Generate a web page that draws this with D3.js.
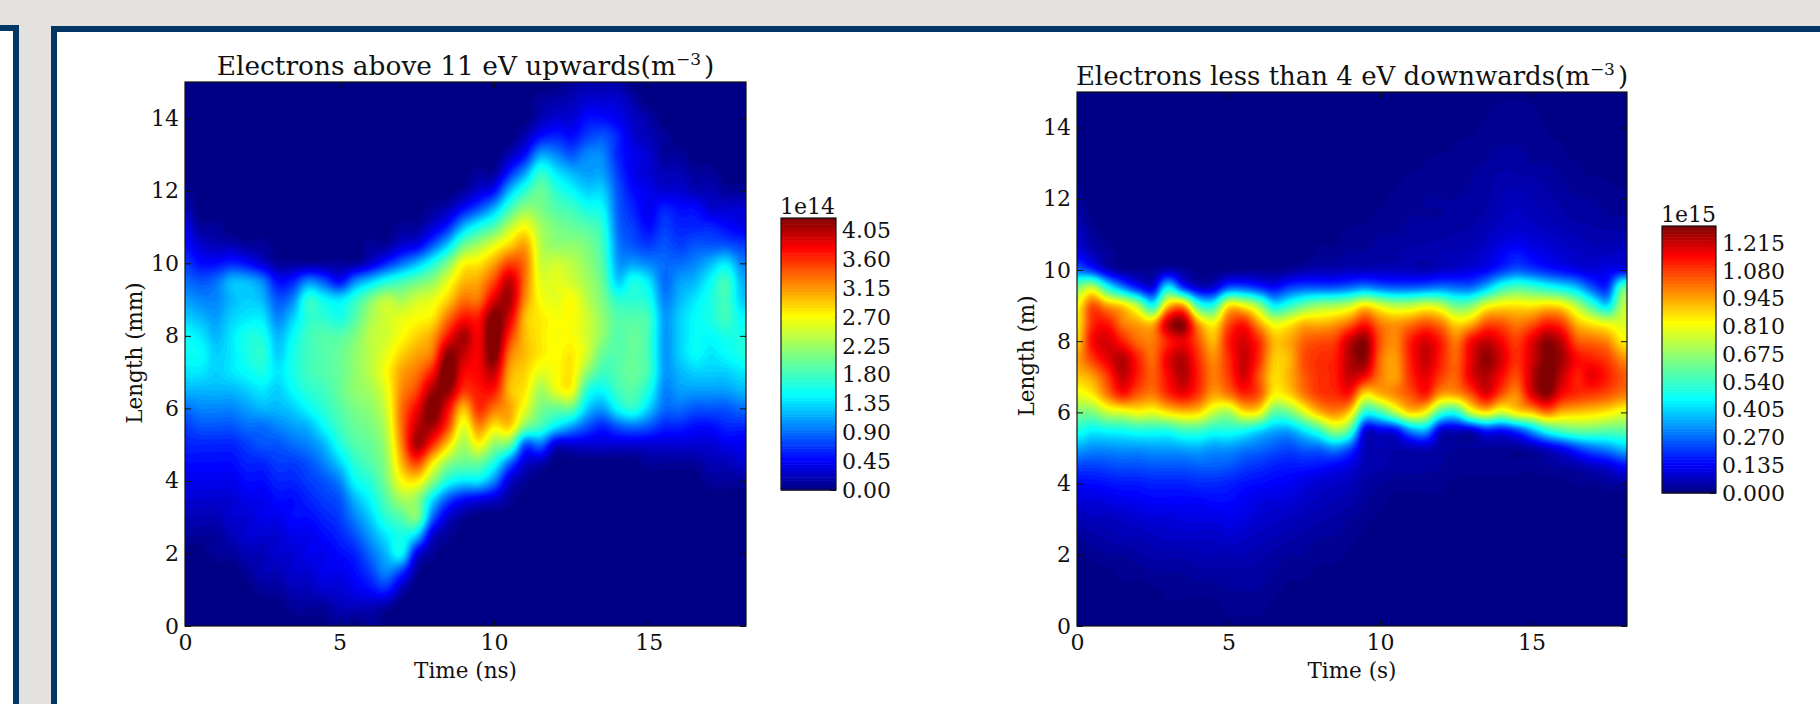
<!DOCTYPE html>
<html><head><meta charset="utf-8">
<script src="https://cdn.jsdelivr.net/npm/d3@7/dist/d3.min.js"></script>
<style>html,body{margin:0;padding:0;background:#e4e2e0;overflow:hidden}svg{display:block}
text{font-family:"DejaVu Serif",serif;fill:#111}</style></head><body>
<svg id="c" width="1820" height="704"></svg>
<script>
// Sampling grids
const timeStep = 0.5, lengthStep = 0.5;
const xTicks = [0, 5, 10, 15];
const yTicks = [0, 2, 4, 6, 8, 10, 12, 14];
const cbTicksUp = [0, 4.5, 9, 13.5, 18, 22.5, 27, 31.5, 36, 40.5];
const cbTicksDown = [0, 13.5, 27, 40.5, 54, 67.5, 81, 94.5, 108, 121.5];

// Electrons above 11 eV upwards, unit 1e13 m^-3. One row per time (0, 0.5 ... 18), values from length 0 upward in 0.5 steps; missing tail = 0
const upward = [
[0,0,0,0,0,1,2,3,4,5,6,7,9,12,14,15,15,13,11,9,7,5,4,2,1],
[0,0,0,0,0,1,2,3,4,5,6,8,10,12,14,15,14,12,10,8,5,3,1],
[0,0,0,0,1,1,2,3,4,5,6,8,10,12,13,13,12,11,10,9,5,2,1],
[0,0,0,0,1,2,3,3,4,5,6,8,10,12,14,14,14,13,12,12,6,2],
[0,0,0,1,2,3,3,4,5,6,7,9,11,13,15,16,16,14,13,12,5,1],
[0,0,1,2,2,3,4,4,5,6,8,9,12,14,16,17,16,14,12,10,3,1],
[0,0,1,2,3,3,4,5,6,7,8,10,12,13,14,13,12,10,8,5,1],
[0,1,2,3,3,4,5,5,6,7,9,11,13,15,16,16,15,13,10,6,1],
[0,1,2,3,4,4,5,6,7,8,10,12,15,17,18,18,18,17,17,10,1],
[0,1,3,4,4,5,6,7,8,10,12,15,17,18,19,19,19,17,15,8,1],
[1,2,3,4,5,6,7,8,10,13,16,18,19,20,20,20,19,16,14,5,1],
[0,2,4,5,6,8,10,12,15,17,19,20,21,22,22,22,21,19,17,10,1],
[1,2,5,7,9,11,13,15,17,19,20,21,22,23,24,24,24,23,21,13,3,1],
[0,1,6,10,12,14,17,19,21,22,23,24,25,26,27,26,25,25,24,16,6,1],
[0,0,2,7,15,16,19,23,27,30,32,33,33,32,31,29,27,26,23,18,9,3,1],
[0,0,0,1,4,13,21,22,28,35,41,40,38,35,33,31,29,27,25,20,12,4,1],
[0,0,0,0,1,3,9,14,22,28,36,41,43,41,37,33,31,28,26,22,16,8,3,1],
[0,0,0,0,0,1,3,8,16,22,29,35,38,42,44,42,37,33,29,26,21,13,6,2],
[0,0,0,0,0,0,1,5,14,20,23,26,30,36,38,40,41,37,33,30,27,20,12,5,1],
[0,0,0,0,0,0,0,4,14,20,27,32,36,37,38,38,38,37,33,31,28,23,16,8,3,1],
[0,0,0,0,0,0,0,3,10,16,22,28,33,37,40,43,44,43,39,35,31,26,19,12,5,1],
[0,0,0,0,0,0,0,1,3,9,20,29,31,30,31,33,36,39,41,40,35,29,24,18,12,6,2],
[0,0,0,0,0,0,0,0,1,3,8,21,26,28,29,30,30,30,32,33,33,31,27,22,17,11,5,2],
[0,0,0,0,0,0,0,0,0,2,9,18,21,23,26,28,28,28,27,26,25,24,23,21,20,17,11,5,2,1],
[0,0,0,0,0,0,0,0,0,0,3,14,20,26,27,27,27,27,26,26,25,22,21,19,17,14,10,6,3,1.5],
[0,0,0,0,0,0,0,0,0,0,3,11,20,27,28,28,27,27,27,25,24,22,20,18,15,12,8,5,3,2,1],
[0,0,0,0,0,0,0,0,0,0,3,8,13,17,22,25,25,25,24,23,22,21,19,16,13,11,10,7,5,3,1.5],
[0,0,0,0,0,0,0,0,0,0,3,6,11,15,18,20,22,22,21,20,19,18,17,15,13,11,10,8,5,3,1.5],
[0,0,0,0,0,0,0,0,0,0,3,8,15,18,19,19,19,19,17,13,11,10,9,8.5,8,7,6,6,4,3,1.5],
[0,0,0,0,0,0,0,0,0,0,3,9,17,19,20,20,20,19,17,16,11,8,7,6,5,4,4,3,2.5,1.5],
[0,0,0,0,0,0,0,0,0,1,3,8,13,16,18,18,18,18,16,14,10,7,5,4,4,3,3,2,1.5],
[0,0,0,0,0,0,0,0,0,1,3,6,9,10,11,11,11,11,10,9,9,8,7,6,3,2,1,1],
[0,0,0,0,0,0,0,0,0,1,3,6,9,11,12,13,13,13,12,11,9,7,6,5,3,2,1],
[0,0,0,0,0,0,0,0,0,1,3,5,8,11,13,15,15,15,14,12,10,8,6,5,2,1],
[0,0,0,0,0,0,0,0,1,2,3,5,8,11,13,14,15,16,16,15,12,8,6,3,2,1],
[0,0,0,0,0,0,0,0,1,2,4,6,8,11,13,15,16,18,18,18,14,8,5,3,1],
[0,0,0,0,0,0,0,0,1,3,4,6,9,12,14,16,16,15,13,12,10,7,4,3,1]
];

// Electrons less than 4 eV downwards, unit 1e13 m^-3. Same layout
const downward = [
[0,0,0,0,1,3,6,10,15,22,35,50,65,80,90,95,88,85,82,65,28,12,8,5,3,1],
[0,0,0,1,2,4,7,10,15,22,32,45,65,85,95,108,115,110,105,75,20,6,3,1],
[0,0,1,1,3,5,7,11,16,23,32,47,75,100,108,118,120,113,95,50,8,3,1],
[0,0,1,2,3,6,8,12,17,24,33,48,78,112,122,124,112,100,88,32,3,1],
[0,0,1,2,4,6,9,13,17,24,33,50,82,104,112,112,102,95,72,18,2],
[0,0,1,3,5,7,10,14,18,25,34,50,80,100,104,102,100,92,48,12,2],
[0,1,2,3,5,8,10,14,18,25,34,50,86,110,115,118,112,122,90,45,6],
[0,1,2,3,5,8,11,14,18,25,35,55,90,116,124,124,118,128,95,22,3],
[0,1,2,4,6,8,11,14,19,26,36,55,88,108,112,110,105,95,55,9,1],
[0,1,2,4,6,8,11,15,19,26,33,50,75,95,100,98,92,83,50,10,1],
[1,2,3,4,6,9,12,15,18,25,33,50,70,100,108,110,112,105,85,25,1],
[1,2,3,4,6,8,11,13,16,22,30,48,85,110,120,122,120,112,82,25,2],
[1,2,3,4,5,7,9,11,15,20,28,42,83,105,105,110,110,95,68,20,2],
[1,1,2,3,4,6,8,10,14,18,25,36,60,84,88,90,92,80,45,15,2],
[0,1,1,2,3,5,7,10,13,17,23,35,63,88,93,92,94,84,52,22,3],
[0,0,1,2,3,4,6,8,11,17,26,44,78,100,104,106,103,92,62,25,5],
[0,0,0,1,2,3,5,7,9,16,27,55,92,108,110,110,106,92,68,25,6,2,1],
[0,0,0,1,2,3,4,6,8,14,32,70,98,110,112,112,108,95,70,25,6,2,1],
[0,0,0,0,1,2,3,5,7,11,24,58,88,112,122,124,122,102,75,28,7,3,2,1],
[0,0,0,0,0,1,2,3,4,6,7,12,50,85,115,128,128,112,86,32,7,3,2,1],
[0,0,0,0,0,0,1,2,3,5,6,12,55,92,100,102,105,100,78,28,7,4,3,2,1],
[0,0,0,0,0,0,0,1,2,4,5,15,72,98,95,96,98,96,72,26,7,4,3,2,2,1],
[0,0,0,0,0,0,0,1,2,4,6,32,88,105,110,112,112,100,73,26,7,5,3.5,3,2,2,1],
[0,0,0,0,0,0,0,1,2,4,7,36,82,112,118,122,120,105,78,28,6,5,4,3,3,2,1.5,1],
[0,0,0,0,0,0,0,1,2,3,4,10,55,95,108,112,112,100,74,30,8,6,4,3,3,2,2,1],
[0,0,0,0,0,0,0,0,1,2,3,8,50,95,103,103,100,88,62,28,9,6,4.5,3.5,3,2.5,2,1.5,1],
[0,0,0,0,0,0,0,0,1,2,3,9,75,105,118,118,115,92,65,28,11,7,5,4,3.5,3,2.5,2,1],
[0,0,0,0,0,0,0,0,1,2,3,18,85,118,124,128,122,105,80,38,14,9,7,5,4,4,3,2.5,2,1],
[0,0,0,0,0,0,0,0,1,2,3,16,75,105,115,120,116,105,85,52,20,13,9,7,6,5,4,3,2,2,1],
[0,0,0,0,0,0,0,0,1,2,3,22,85,98,106,110,108,100,86,58,25,16,10,8,7,5,4,3,2,2,1],
[0,0,0,0,0,0,0,0,1,2,5,35,90,118,122,120,118,104,85,55,22,13,9,7,6,5,3,2.5,2,2],
[0,0,0,0,0,0,0,0,1,3,9,50,100,128,132,130,128,112,88,50,18,11,8,6,5,4,3,2,1.5],
[0,0,0,0,0,0,0,0,1,4,14,58,92,115,122,126,122,108,85,45,15,9,7,5,4,3,2,1.5],
[0,0,0,0,0,0,0,0,2,5,22,62,90,110,112,115,105,92,72,38,12,8,6,4,3,2,1.5],
[0,0,0,0,0,0,0,0,2,8,28,62,88,108,118,112,102,85,55,25,10,7,5,4,3,2],
[0,0,0,0,0,0,0,0,3,10,32,60,85,105,112,108,98,80,42,20,12,7,5,3,2,1.5],
[0,0,0,0,0,0,0,0,4,15,38,60,80,100,105,98,85,78,72,58,14,8,5,3,2,1]
];

const jetStops = ["#00007f","#0000ff","#00ffff","#7fff7f","#ffff00","#ff0000","#7f0000"];
const jetPos = [0,0.11,0.35,0.5,0.64,0.89,1];
const jet = d3.scaleLinear().domain(jetPos).range(jetStops).interpolate(d3.interpolateRgb).clamp(true);

const svg = d3.select("#c");
const navy = "#003764";
// page panels
svg.append("rect").attr("x",0).attr("y",25).attr("width",19).attr("height",679).attr("fill",navy);
svg.append("rect").attr("x",0).attr("y",31).attr("width",13).attr("height",673).attr("fill","#fff");
svg.append("rect").attr("x",51).attr("y",26).attr("width",1769).attr("height",678).attr("fill",navy);
svg.append("rect").attr("x",57).attr("y",32).attr("width",1763).attr("height",672).attr("fill","#fff");

function catmull(a,b,c,d,t){return 0.5*((2*b)+(-a+c)*t+(2*a-5*b+4*c-d)*t*t+(-a+3*b-3*c+d)*t*t*t);}
function sampler(cols){
  const nc=cols.length,nr=31;
  const at=(i,j)=>{i=Math.max(0,Math.min(nc-1,i));j=Math.max(0,Math.min(nr-1,j));return cols[i][j]||0;};
  return (t,l)=>{
    const u=t/timeStep,v=l/lengthStep,i=Math.floor(u),j=Math.floor(v),fu=u-i,fv=v-j,r=[];
    for(let k=-1;k<=2;k++)r.push(catmull(at(i+k,j-1),at(i+k,j),at(i+k,j+1),at(i+k,j+2),fv));
    return Math.max(0,catmull(r[0],r[1],r[2],r[3],fu));
  };
}

function panel(o){
  const x=d3.scaleLinear().domain([0,18.15]).range([o.left,o.right]);
  const y=d3.scaleLinear().domain([0,15]).range([o.bottom,o.top]);
  const id="clip"+o.left;
  svg.append("clipPath").attr("id",id).append("rect").attr("x",o.left).attr("y",o.top).attr("width",o.right-o.left).attr("height",o.bottom-o.top);
  const levels=d3.range(0,o.vmax,o.step);
  const color=v=>jet(Math.min(1,(v+o.step/2)/o.vmax));
  const g=svg.append("g").attr("clip-path","url(#"+id+")");
  g.append("rect").attr("x",o.left).attr("y",o.top).attr("width",o.right-o.left).attr("height",o.bottom-o.top).attr("fill",color(0));
  const dt=0.08,dl=0.08,nx=Math.ceil(18.15/dt)+1,ny=Math.ceil(15/dl)+1;
  const f=sampler(o.data),vals=new Float64Array(nx*ny);
  for(let j=0;j<ny;j++)for(let i=0;i<nx;i++)vals[i+j*nx]=f(i*dt,j*dl);
  const contours=d3.contours().size([nx,ny]).thresholds(levels.slice(1))(Array.from(vals));
  const path=d3.geoPath(d3.geoTransform({point(px,py){this.stream.point(x((px-0.5)*dt),y((py-0.5)*dl));}}));
  g.selectAll("path").data(contours).join("path").attr("d",path).attr("fill",d=>color(d.value)).attr("stroke",d=>color(d.value)).attr("stroke-width",0.3);

  const fs=22;
  const axes=svg.append("g").style("font-size",fs+"px");
  const ax=(gen,tx,ty)=>{const a=axes.append("g").attr("transform",`translate(${tx},${ty})`).call(gen);
    a.select(".domain").remove();a.selectAll("line").attr("stroke","#111").attr("stroke-width",1);
    a.selectAll("text").attr("font-family",'"DejaVu Serif",serif').attr("font-size",fs).attr("fill","#111");return a;};
  ax(d3.axisBottom(x).tickValues(xTicks).tickFormat(d3.format("d")).tickSizeInner(-6).tickSizeOuter(0).tickPadding(8),0,o.bottom);
  ax(d3.axisTop(x).tickValues(xTicks).tickFormat("").tickSizeInner(-6).tickSizeOuter(0),0,o.top);
  ax(d3.axisLeft(y).tickValues(yTicks).tickFormat(d3.format("d")).tickSizeInner(-6).tickSizeOuter(0).tickPadding(6),o.left,0);
  ax(d3.axisRight(y).tickValues(yTicks).tickFormat("").tickSizeInner(-6).tickSizeOuter(0),o.right,0);
  svg.append("rect").attr("x",o.left).attr("y",o.top).attr("width",o.right-o.left).attr("height",o.bottom-o.top).attr("fill","none").attr("stroke","#111").attr("stroke-width",1.2);

  const cx=(o.left+o.right)/2;
  const t=svg.append("text").attr("x",cx).attr("y",o.top-7).attr("text-anchor","middle").style("font-size",o.titleSize+"px");
  t.append("tspan").text(o.title);
  t.append("tspan").text("m");
  t.append("tspan").attr("dy",-10).style("font-size","17px").text("\u22123");
  t.append("tspan").attr("dy",10).attr("dx",3).text(")");
  svg.append("text").attr("x",cx).attr("y",678).attr("text-anchor","middle").style("font-size","21.5px").text(o.xlabel);
  svg.append("text").attr("transform",`translate(${o.ylabelX},${o.ylabelY}) rotate(-90)`).attr("text-anchor","middle").style("font-size","21.5px").text(o.ylabel);

  // colour bar
  const cb=d3.scaleLinear().domain([0,o.vmax]).range([o.cbBottom,o.cbTop]);
  svg.append("g").selectAll("rect").data(levels).join("rect").attr("x",o.cbLeft).attr("width",o.cbRight-o.cbLeft)
    .attr("y",d=>cb(Math.min(o.vmax,d+o.step))).attr("height",d=>cb(d)-cb(Math.min(o.vmax,d+o.step))+0.5).attr("fill",d=>color(d));
  ax(d3.axisRight(cb).tickValues(o.cbTicks).tickFormat(v=>d3.format(o.cbFmt)(v/o.cbDiv)).tickSizeInner(-6).tickSizeOuter(0).tickPadding(6),o.cbRight,0);
  svg.append("rect").attr("x",o.cbLeft).attr("y",o.cbTop).attr("width",o.cbRight-o.cbLeft).attr("height",o.cbBottom-o.cbTop).attr("fill","none").attr("stroke","#111").attr("stroke-width",1.2);
  svg.append("text").attr("x",o.cbLeft-1).attr("y",o.cbTop-4).style("font-size","22px").text(o.cbExp);
}

panel({data:upward,left:185,right:746,top:82,bottom:626,vmax:42.5,step:0.5,titleSize:26.4,
  title:"Electrons above 11 eV upwards(",xlabel:"Time (ns)",ylabel:"Length (mm)",ylabelX:142,ylabelY:353,
  cbLeft:781,cbRight:836,cbTop:218,cbBottom:490,cbTicks:cbTicksUp,cbDiv:10,cbFmt:".2f",cbExp:"1e14"});
panel({data:downward,left:1077,right:1627,top:92,bottom:626,vmax:130,step:1.5,titleSize:26,
  title:"Electrons less than 4 eV downwards(",xlabel:"Time (s)",ylabel:"Length (m)",ylabelX:1034,ylabelY:356,
  cbLeft:1662,cbRight:1716,cbTop:226,cbBottom:493,cbTicks:cbTicksDown,cbDiv:100,cbFmt:".3f",cbExp:"1e15"});
</script></body></html>
